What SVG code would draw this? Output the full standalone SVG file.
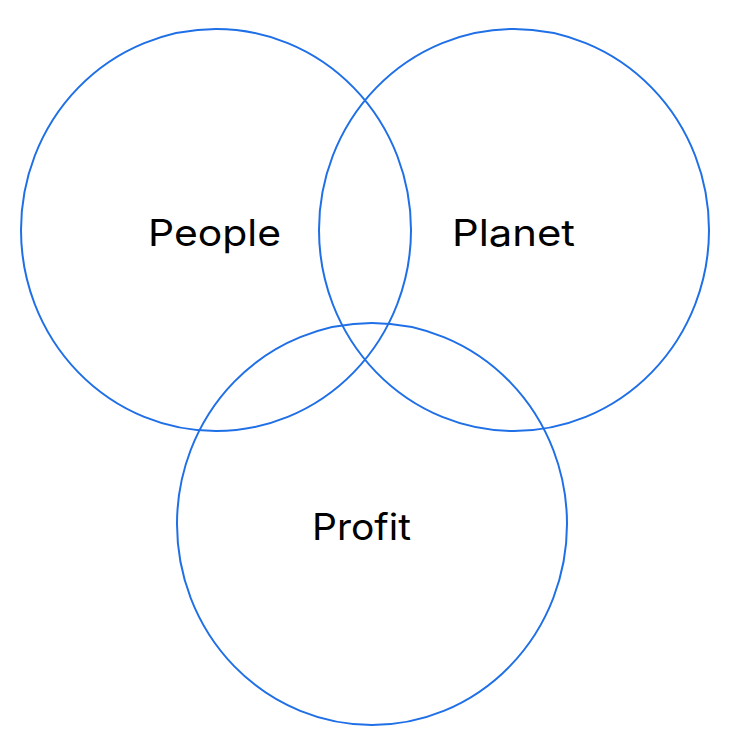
<svg xmlns="http://www.w3.org/2000/svg" width="732" height="756" viewBox="0 0 732 756">
<style>
.c{fill:none;stroke:#1f6fe6;stroke-width:2}
.t{font-family:Inter,"Liberation Sans",sans-serif;font-size:37px;fill:#000;text-anchor:middle}
</style>
<rect width="732" height="756" fill="#fff"/>
<g id="people"><ellipse class="c" cx="216" cy="230" rx="195" ry="201"/><text class="t" x="214.5" y="246" textLength="133" lengthAdjust="spacingAndGlyphs">People</text></g>
<g id="planet"><ellipse class="c" cx="514" cy="230" rx="195" ry="201"/><text class="t" x="513.5" y="246" textLength="123" lengthAdjust="spacingAndGlyphs">Planet</text></g>
<g id="profit"><ellipse class="c" cx="372" cy="524" rx="195" ry="201"/><text class="t" x="361.5" y="540" textLength="99" lengthAdjust="spacingAndGlyphs">Profit</text></g>
</svg>
